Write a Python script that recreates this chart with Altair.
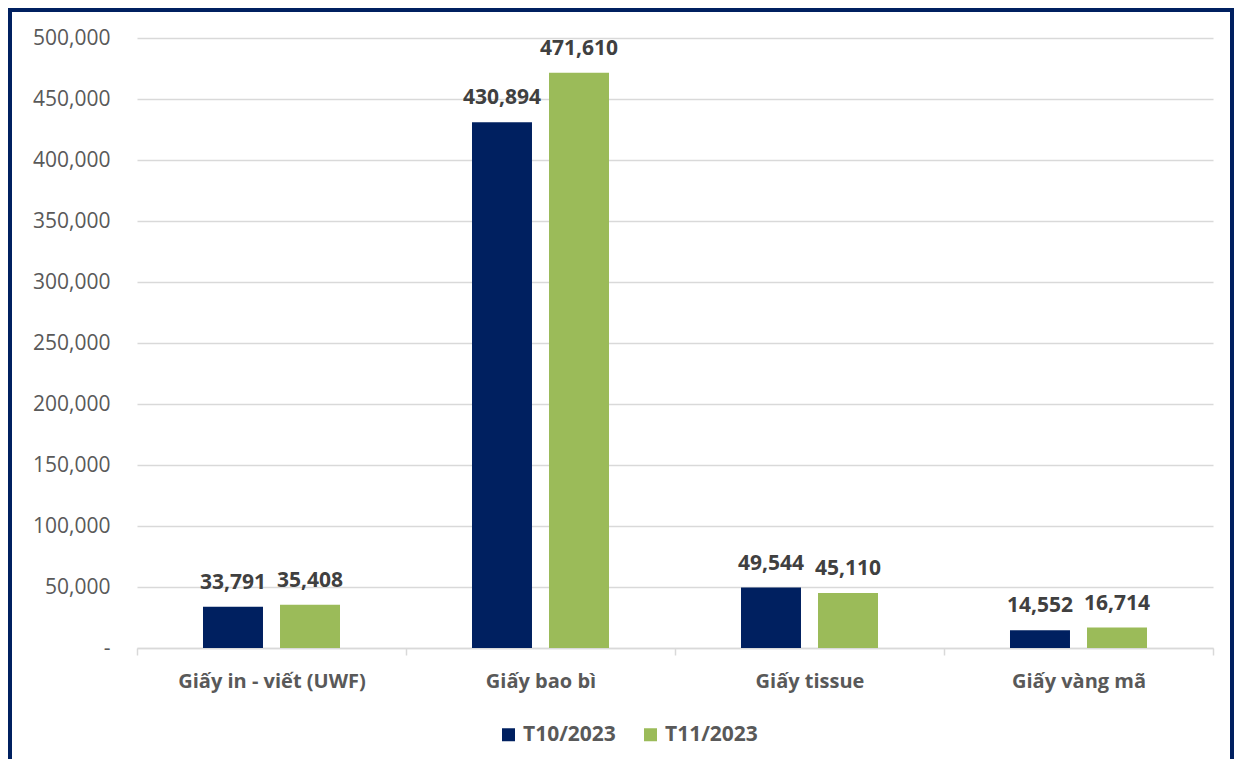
import altair as alt
import pandas as pd

categories = ["Giấy in - viết (UWF)", "Giấy bao bì", "Giấy tissue", "Giấy vàng mã"]
series = ["T10/2023", "T11/2023"]
t10 = [33791, 430894, 49544, 14552]
t11 = [35408, 471610, 45110, 16714]
colors = ["#002060", "#9BBB59"]
y_ticks = list(range(0, 500001, 50000))

rows = []
for c, a, b in zip(categories, t10, t11):
    rows.append({"cat": c, "series": series[0], "value": a})
    rows.append({"cat": c, "series": series[1], "value": b})
df = pd.DataFrame(rows)

FONT = "Open Sans"
GRAY = "#595959"
GRID = "#d9d9d9"

x_enc = alt.X(
    "cat:N",
    sort=categories,
    scale=alt.Scale(paddingInner=0, paddingOuter=0),
    axis=alt.Axis(
        title=None, labelAngle=0, tickBand="extent", ticks=True, tickSize=7,
        tickColor=GRID, tickWidth=1.5, domainColor=GRID, domainWidth=1.5,
        labelFont=FONT, labelFontSize=20, labelFontWeight="bold",
        labelColor=GRAY, labelPadding=16, grid=False, labelLimit=0,
    ),
)
xoff = alt.XOffset("series:N", sort=series,
                   scale=alt.Scale(paddingInner=0.221, paddingOuter=0.857))
y_enc = alt.Y(
    "value:Q",
    scale=alt.Scale(domain=[0, 500000], nice=False),
    axis=alt.Axis(
        title=None, values=y_ticks, ticks=False, tickSize=0, domain=False,
        grid=True, gridColor=GRID, gridWidth=1.5,
        labelFont=FONT, labelFontSize=21, labelColor=GRAY, labelPadding=27,
        labelExpr="datum.value == 0 ? '-' : format(datum.value, ',')",
    ),
)

base = alt.Chart(df)
bars = base.mark_bar().encode(
    x=x_enc, xOffset=xoff, y=y_enc,
    color=alt.Color(
        "series:N", sort=series,
        scale=alt.Scale(domain=series, range=colors),
        legend=alt.Legend(
            title=None, orient="none", legendX=361, legendY=686,
            direction="horizontal", symbolType="square", symbolSize=169,
            symbolStrokeWidth=0, labelFont=FONT, labelFontSize=21,
            labelFontWeight="bold", labelColor=GRAY, columnPadding=24,
            labelOffset=4, padding=0,
        ),
    ),
)
labels = base.mark_text(
    baseline="alphabetic", dy=-18, font=FONT, fontSize=21,
    fontWeight="bold", color="#404040",
).encode(
    x=alt.X("cat:N", sort=categories), xOffset=alt.XOffset("series:N", sort=series),
    y=alt.Y("value:Q"), text=alt.Text("value:Q", format=","),
)

border = alt.Chart(pd.DataFrame({"a": [0]})).mark_rect(
    filled=False, stroke="#002060", strokeWidth=4
).encode(
    x=alt.value(-127), x2=alt.value(1095), y=alt.value(-28), y2=alt.value(740)
)

chart = alt.layer(bars, labels, border).properties(
    width=1076, height=610,
    background="white",
    autosize=alt.AutoSizeParams(type="none"),
    padding={"left": 129, "top": 30, "right": 21, "bottom": 111},
).configure_view(strokeWidth=0, stroke="transparent")

chart.save("out.html", embed_options={"renderer": "svg", "actions": False})
